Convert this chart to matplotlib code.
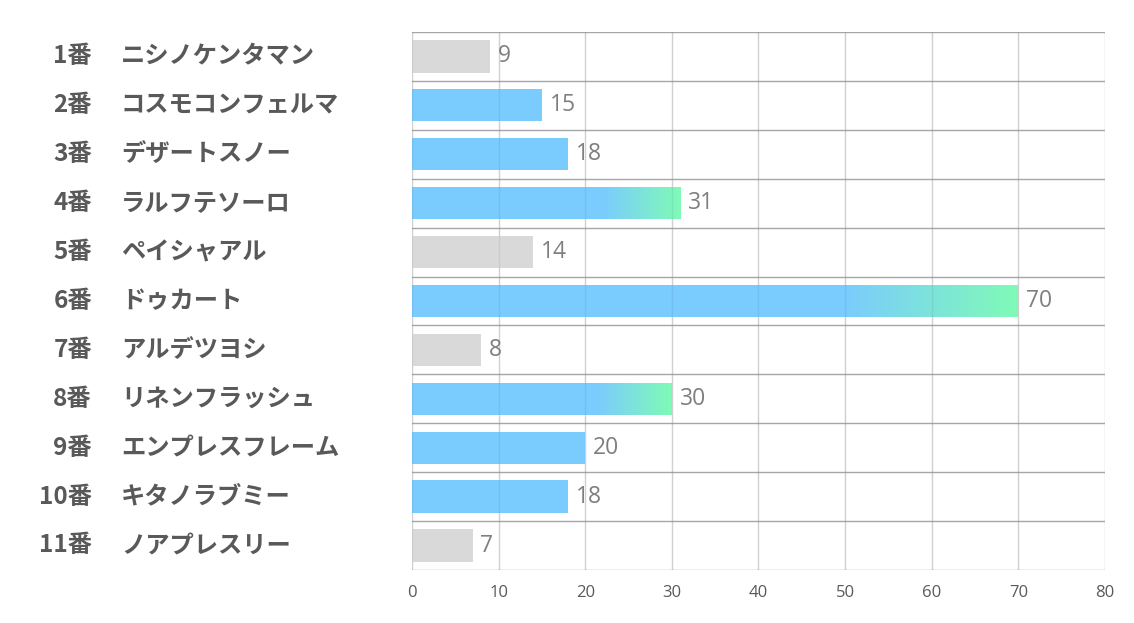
import matplotlib.pyplot as plt
import numpy as np
from matplotlib.colors import LinearSegmentedColormap

plt.rcParams['font.family'] = ['Noto Sans CJK JP', 'DejaVu Sans']

# horse numbers, names, values
numbers = ['1番', '2番', '3番', '4番', '5番', '6番', '7番', '8番', '9番', '10番', '11番']
names = ['ニシノケンタマン', 'コスモコンフェルマ', 'デザートスノー', 'ラルフテソーロ', 'ペイシャアル',
         'ドゥカート', 'アルデツヨシ', 'リネンフラッシュ', 'エンプレスフレーム', 'キタノラブミー',
         'ノアプレスリー']
values = [9, 15, 18, 31, 14, 70, 8, 30, 20, 18, 7]
# group of each bar: 'low' (gray), 'mid' (blue), 'top' (blue -> green)
groups = ['low', 'mid', 'mid', 'top', 'low', 'top', 'low', 'top', 'mid', 'mid', 'low']

gray = '#d9d9d9'
blue = '#7acbfe'
green = '#7ffab6'
cmap = LinearSegmentedColormap.from_list('bg', [blue, green])
num_font = ['Open Sans', 'DejaVu Sans']

fig = plt.figure(figsize=(11.34, 6.23), dpi=100)
ax = fig.add_axes([0.3633, 0.0851, 0.6111, 0.8636])

n = len(values)
h = 0.66
steps = 80
for i, (v, g) in enumerate(zip(values, groups)):
    col = gray if g == 'low' else blue
    ax.barh(i, v, height=h, color=col, zorder=2, lw=0)
    if g == 'top':
        # blue -> green fade over the last part of the bar
        x0 = 0.71 * v
        w = (v - x0) / steps
        for k in range(steps):
            ax.barh(i, w * 1.05, left=x0 + k * w, height=h,
                    color=cmap((k + 0.5) / steps), lw=0, zorder=3)
    ax.text(v + 0.9, i, str(v), va='center', ha='left', fontsize=16.5,
            color='#7f7f7f', family=num_font, zorder=4)

ax.set_xlim(0, 80)
ax.set_ylim(n - 0.5, -0.5)
ax.set_xticks(np.arange(0, 81, 10))
ax.tick_params(axis='x', length=0, labelsize=12, labelcolor='#595959', pad=11)
for lab in ax.get_xticklabels():
    lab.set_family(num_font)
ax.set_yticks([])
for s in ax.spines.values():
    s.set_visible(False)

# grid lines (vertical ones very faintly show through the bars)
for xv in np.arange(0, 81, 10):
    ax.axvline(xv, color='#dddddd', lw=1, zorder=1)
    ax.axvline(xv, color='black', lw=1, alpha=0.06, zorder=3.5)
for yb in np.arange(-0.5, n, 1):
    ax.axhline(yb, color='#a6a6a6', lw=1, zorder=1)

# left labels
for i in range(n):
    yf = 1 - (32 + 48.9 * (i + 0.5)) / 623
    fig.text(92 / 1134, yf, numbers[i], ha='right', va='center', fontsize=17.5,
             fontweight='bold', color='#595959')
    fig.text(121 / 1134, yf, names[i], ha='left', va='center', fontsize=17.5,
             fontweight='bold', color='#595959')

fig.savefig('out.png', dpi=100)
